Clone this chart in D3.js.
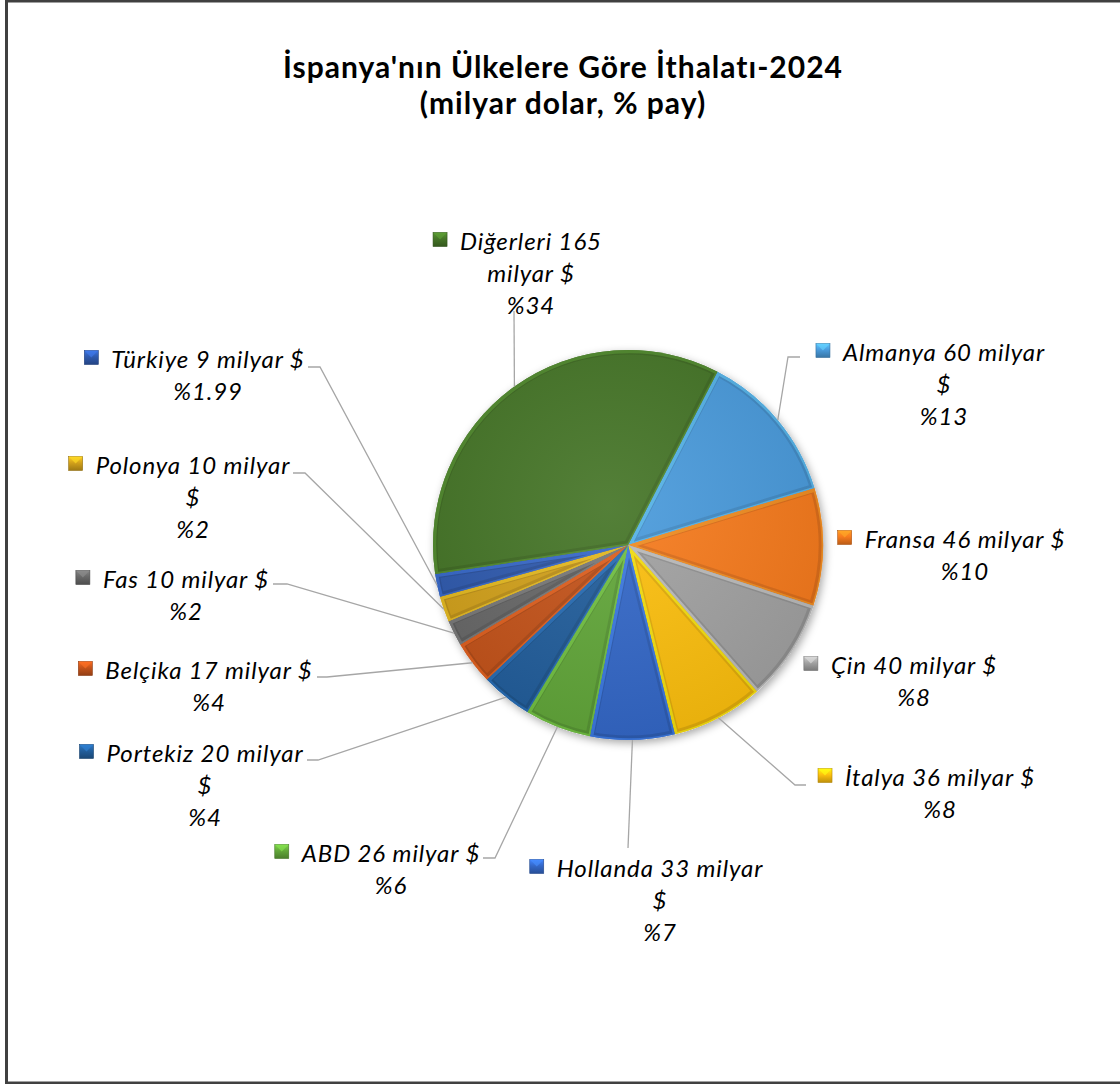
<!DOCTYPE html>
<html><head><meta charset="utf-8">
<script src="https://cdn.jsdelivr.net/npm/d3@7"></script>
<style>html,body{margin:0;padding:0;background:#fff;overflow:hidden}</style>
</head><body>
<script>
// ---- data ----
const countries = ["Almanya","Fransa","Çin","İtalya","Hollanda","ABD","Portekiz","Belçika","Fas","Polonya","Türkiye","Diğerleri"];
const values = [60,46,40,36,33,26,20,17,10,10,9,165];
const shares = ["%13","%10","%8","%8","%7","%6","%4","%4","%2","%2","%1.99","%34"];
const titleLines = ["İspanya'nın Ülkelere Göre İthalatı-2024","(milyar dolar, % pay)"];

// ---- styles / layout ----
const colors = ["#4A9BDC","#F77B1D","#A2A2A2","#FDC00E","#3468C8","#62A73A","#225E9C","#C4531A","#686868","#D2A11B","#2F5AAE","#457527"];
const labelLayout = [
  {cx:944, y:351, wrap:"dollar", leader:[[788,357],[800,357]]},
  {cx:965, y:538, wrap:"none",   leader:null},
  {cx:914, y:664, wrap:"none",   leader:null},
  {cx:940, y:776, wrap:"none",   leader:[[795,785],[806,785]]},
  {cx:660, y:867, wrap:"dollar", leader:[[628,848]]},
  {cx:391, y:852, wrap:"none",   leader:[[495,858],[483,858]]},
  {cx:205, y:752, wrap:"dollar", leader:[[318,760],[307,760]]},
  {cx:209, y:669, wrap:"none",   leader:[[327,677],[317,677]]},
  {cx:186, y:578, wrap:"none",   leader:[[287,584],[273,584]]},
  {cx:193, y:464, wrap:"dollar", leader:[[305,473],[293,473]]},
  {cx:208, y:358, wrap:"none",   leader:[[320,367],[308,367]]},
  {cx:531, y:240, wrap:"milyar", leader:[[514,311]]}
];
const W = 1120, H = 1084;
const cx = 628, cy = 545, R = 195;
const start = 27.3 * Math.PI / 180;
const FONT = "Lato, 'Open Sans', sans-serif";
const lineGap = 32;

const svg = d3.select("body").append("svg").attr("width", W).attr("height", H);
const defs = svg.append("defs");
const sh = defs.append("filter").attr("id","shadow").attr("x","-20%").attr("y","-20%").attr("width","140%").attr("height","140%");
sh.append("feDropShadow").attr("dx",2).attr("dy",3).attr("stdDeviation",4).attr("flood-color","#000").attr("flood-opacity",0.35);

// marker gradients
colors.forEach((c,i)=>{
  const g = defs.append("linearGradient").attr("id","mg"+i).attr("x1",0).attr("y1",0).attr("x2",0).attr("y2",1);
  g.append("stop").attr("offset","0%").attr("stop-color", d3.color(c).brighter(0.7));
  g.append("stop").attr("offset","45%").attr("stop-color", c);
  g.append("stop").attr("offset","100%").attr("stop-color", d3.color(c).darker(0.8));
});

// border
svg.append("rect").attr("x",6.5).attr("y",1).attr("width",W+10).attr("height",H-2)
  .attr("fill","none").attr("stroke","#404040").attr("stroke-width",3);

// title
titleLines.forEach((t,k)=>{
  svg.append("text").attr("x",563).attr("y",[78,114][k]).attr("text-anchor","middle")
    .attr("font-family",FONT).attr("font-weight","bold").attr("font-size",30)
    .attr("letter-spacing",1).attr("fill","#000").text(t);
});

// pie
const pie = d3.pie().sort(null).value(d=>d).startAngle(start).endAngle(start + 2*Math.PI);
const arcs = pie(values);
const arc = d3.arc().innerRadius(0).outerRadius(R);

const pg = svg.append("g").attr("transform",`translate(${cx},${cy})`);
pg.append("circle").attr("r",R).attr("fill","#fff").attr("filter","url(#shadow)");

arcs.forEach((a,i)=>{
  const cpId = "cp"+i;
  defs.append("clipPath").attr("id",cpId).append("path").attr("d",arc(a));
  const g = pg.append("g");
  g.append("path").attr("d",arc(a)).attr("fill",colors[i]);
  const cg = g.append("g").attr("clip-path",`url(#${cpId})`);
  cg.append("path").attr("d",arc(a)).attr("fill","none")
    .attr("stroke", d3.color(colors[i]).darker(0.6)).attr("stroke-width",9).attr("stroke-opacity",0.55);
  cg.append("path").attr("d",arc(a)).attr("fill","none")
    .attr("stroke", d3.color(colors[i]).brighter(0.8)).attr("stroke-width",5).attr("stroke-opacity",0.6)
    .attr("transform","translate(0.8,0.8)");
});
const lg = defs.append("radialGradient").attr("id","light").attr("cx","45%").attr("cy","40%").attr("r","60%");
lg.append("stop").attr("offset","0%").attr("stop-color","#fff").attr("stop-opacity",0.08);
lg.append("stop").attr("offset","100%").attr("stop-color","#000").attr("stop-opacity",0.08);
pg.append("circle").attr("r",R).attr("fill","url(#light)");

// leader lines
const lineGen = d3.line();
arcs.forEach((a,i)=>{
  const L = labelLayout[i];
  if (!L.leader) return;
  const mid = (a.startAngle + a.endAngle)/2;
  const p0 = [cx + R*Math.sin(mid), cy - R*Math.cos(mid)];
  svg.append("path").attr("d", lineGen([p0, ...L.leader]))
    .attr("fill","none").attr("stroke","#A6A6A6").attr("stroke-width",1.3);
});

// labels
arcs.forEach((a,i)=>{
  const L = labelLayout[i];
  const name = countries[i], v = values[i];
  let lines;
  if (L.wrap === "dollar") lines = [`${name} ${v} milyar`, "$", shares[i]];
  else if (L.wrap === "milyar") lines = [`${name} ${v}`, "milyar $", shares[i]];
  else lines = [`${name} ${v} milyar $`, shares[i]];
  const g = svg.append("g");
  let firstW = 0;
  lines.forEach((t,k)=>{
    const tx = g.append("text").attr("x",L.cx).attr("y",L.y + k*lineGap)
      .attr("text-anchor","middle").attr("dominant-baseline","central")
      .attr("font-family",FONT).attr("font-style","italic").attr("font-size",24)
      .attr("letter-spacing",0.9).attr("fill","#000")
      .text(t);
    if (k===0) firstW = tx.node().getComputedTextLength();
  });
  const mx = L.cx - firstW/2 - 13 - 14;
  g.append("rect").attr("x",mx).attr("y",L.y - 7.5).attr("width",14).attr("height",14)
    .attr("fill",`url(#mg${i})`).attr("stroke",d3.color(colors[i]).darker(1)).attr("stroke-width",0.6);
  g.append("path").attr("d",`M${mx},${L.y-7.5}L${mx+7},${L.y-0.5}L${mx+14},${L.y-7.5}Z`)
    .attr("fill",d3.color(colors[i]).brighter(0.9)).attr("opacity",0.6);
});
</script>
</body></html>
